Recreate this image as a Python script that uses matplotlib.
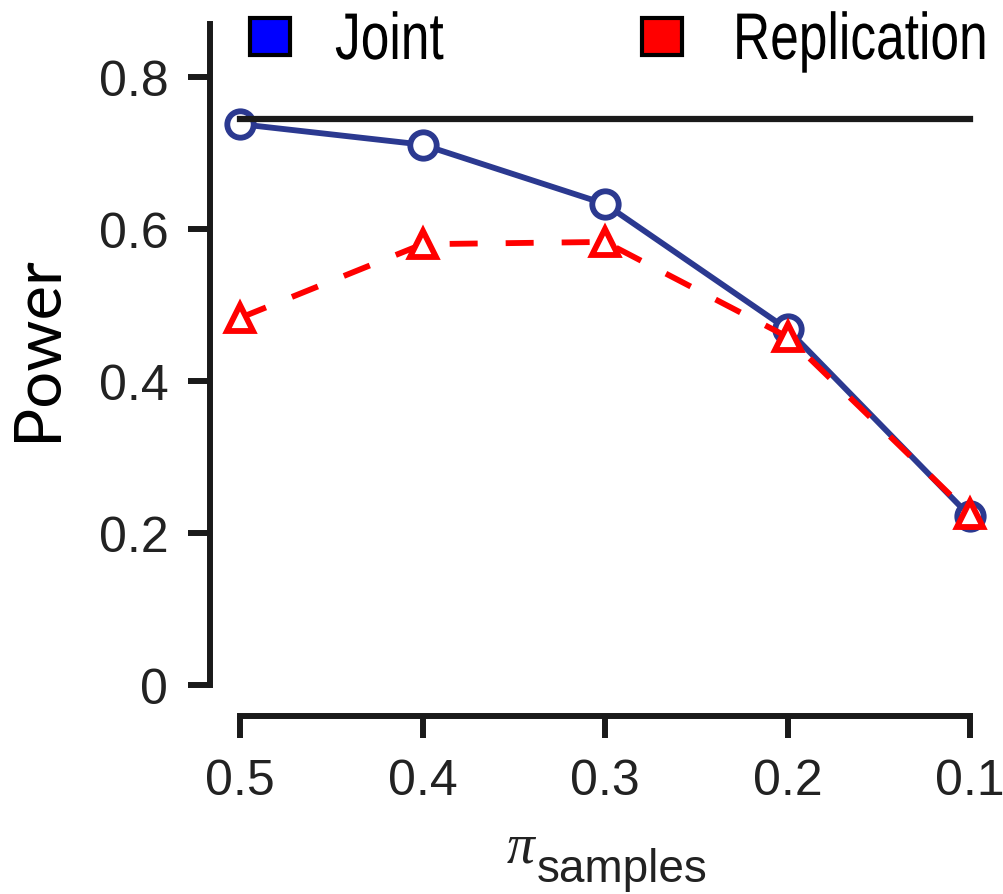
import numpy as np
import matplotlib
matplotlib.use("Agg")
from matplotlib import pyplot as plt
from matplotlib.patches import Rectangle, PathPatch
from matplotlib.textpath import TextPath
from matplotlib.font_manager import FontProperties
from matplotlib.transforms import Affine2D, IdentityTransform

# dados
pi_samples = [0.5, 0.4, 0.3, 0.2, 0.1]
joint = [0.738, 0.711, 0.633, 0.468, 0.222]
replication = [0.483, 0.580, 0.583, 0.458, 0.225]
reference_power = 0.745
yticks = [0, 0.2, 0.4, 0.6, 0.8]
ytick_labels = ["0", "0.2", "0.4", "0.6", "0.8"]
xtick_labels = ["0.5", "0.4", "0.3", "0.2", "0.1"]

W, H = 1004, 895
fig = plt.figure(figsize=(W / 100, H / 100), dpi=100)

# eixo posicionado em pixels (spine esquerda em x=210, spine de baixo em y=717)
ax = fig.add_axes([210 / W, (H - 717) / H, 790 / W, (717 - 25) / H])
ax.set_xlim(0.5 + 30 / 1825, 0.1 - 30 / 1825)
ax.set_ylim(-31 / 760, (686 - 25) / 760)

blue = "#2B3990"
red = "#FF0000"

ax.plot(pi_samples, joint, color=blue, lw=4.2, marker="o", ms=19,
        mfc="white", mec=blue, mew=4.2, zorder=3)
ax.plot(pi_samples, replication, color=red, lw=4.2, marker="^", ms=19,
        mfc="white", mec=red, mew=4.2, dashes=(4.8, 4.8),
        dash_capstyle="butt", zorder=4)
ax.plot([pi_samples[0], pi_samples[-1]], [reference_power, reference_power],
        color="#1a1a1a", lw=4.5, solid_capstyle="projecting", zorder=5)

ax.spines["top"].set_visible(False)
ax.spines["right"].set_visible(False)
for s in ("left", "bottom"):
    ax.spines[s].set_linewidth(4.3)
    ax.spines[s].set_color("#1a1a1a")
    ax.spines[s].set_capstyle("projecting")
ax.spines["bottom"].set_bounds(0.1, 0.5)
ax.spines["left"].set_bounds(0, (686 - 25) / 760)

ax.set_yticks(yticks)
ax.set_yticklabels(ytick_labels)
ax.set_xticks(pi_samples)
ax.set_xticklabels(xtick_labels)
ax.tick_params(length=16, width=4.3, pad=14, labelsize=36,
               color="#1a1a1a", labelcolor="#222222")
for lab in ax.get_xticklabels() + ax.get_yticklabels():
    lab.set_family("Liberation Sans")

# rotulo do eixo y
fig.text(38 / W, (H - 348) / H, "Power", rotation=90, ha="center",
         va="center", fontsize=47, family="Lato", color="black")

# rotulo do eixo x: pi com subscrito
fig.text(521 / W, (H - 863) / H, "\u03c0", ha="center", va="baseline",
         fontsize=40, family="Liberation Serif", style="italic",
         color="#222222")
fig.text(537 / W, (H - 882) / H, "samples", ha="left", va="baseline",
         fontsize=33, family="Liberation Sans", color="#222222")

# legenda (texto estreito: fonte comprimida na horizontal)
legend_items = [("Joint", "#0000FF", 250, 335), ("Replication", "#FF0000", 642, 733)]
fp = FontProperties(family="Liberation Sans")
for name, col, xs, xt in legend_items:
    fig.patches.append(Rectangle((xs / W, (H - 56) / H), 40 / W, 37 / H,
                                 transform=fig.transFigure, facecolor=col,
                                 edgecolor="black", lw=3))
    tp = TextPath((0, 0), name, size=66, prop=fp)
    tp = Affine2D().scale(0.78, 1.0).translate(xt, H - 60).transform_path(tp)
    fig.patches.append(PathPatch(tp, transform=IdentityTransform(),
                                 facecolor="black", edgecolor="none"))

fig.savefig("out.png", dpi=100)
